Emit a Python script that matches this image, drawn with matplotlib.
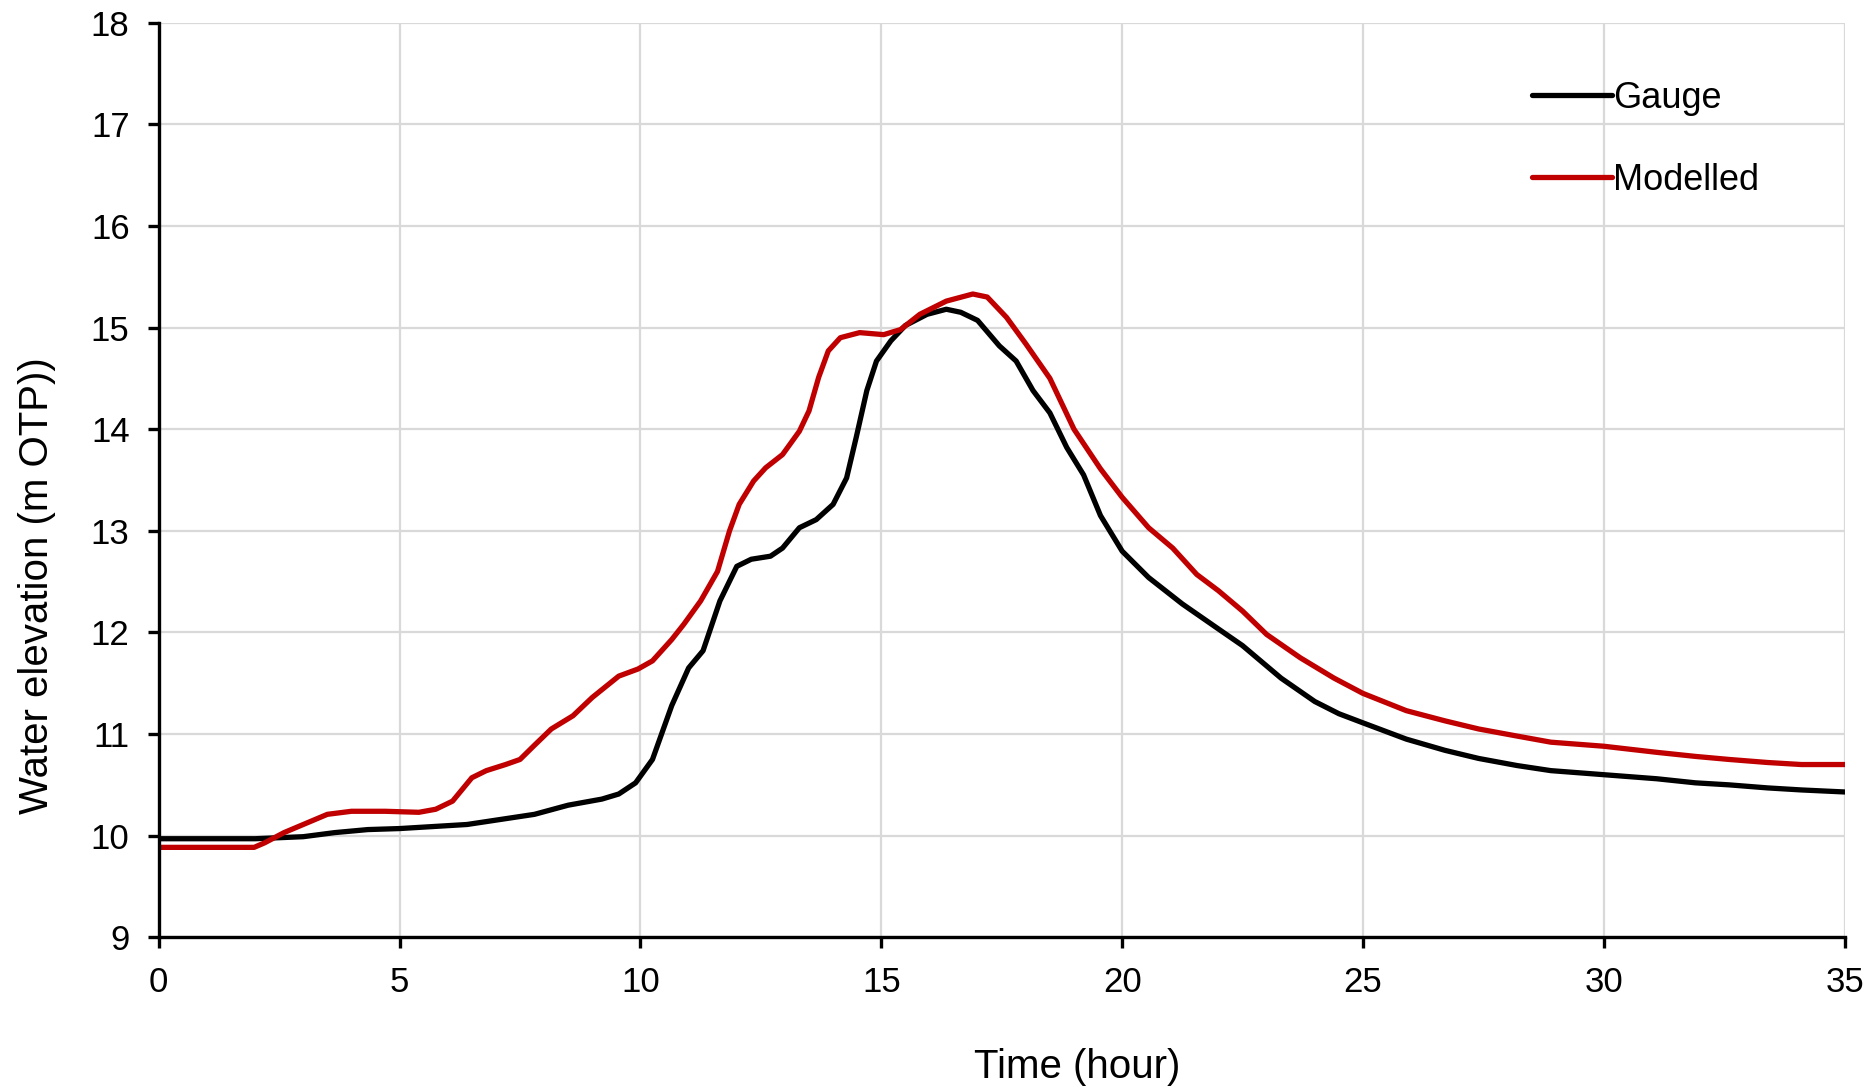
import matplotlib
matplotlib.use("Agg")
import matplotlib.pyplot as plt

# time (hour) and water elevation
gauge_t = [0, 1, 2, 2.5, 3, 3.65, 4.34, 5, 5.7, 6.4, 7.1, 7.8, 8.5, 9.2, 9.55, 9.9,
           10.25, 10.65, 11.0, 11.3, 11.65, 12.0, 12.3, 12.7, 12.95, 13.3, 13.65,
           14.0, 14.28, 14.48, 14.7, 14.9, 15.2, 15.5, 15.95, 16.35, 16.65, 17.0,
           17.45, 17.8, 18.15, 18.5, 18.85, 19.2, 19.55, 20.0, 20.55, 21.25, 21.95,
           22.5, 23.3, 24.0, 24.5, 25.0, 25.9, 26.7, 27.4, 28.2, 28.9, 30.0, 31.1,
           31.9, 32.6, 33.4, 34.1, 35.0]
gauge_y = [9.97, 9.97, 9.97, 9.98, 9.99, 10.03, 10.06, 10.07, 10.09, 10.11, 10.16,
           10.21, 10.30, 10.36, 10.41, 10.52, 10.75, 11.28, 11.65, 11.82, 12.31,
           12.65, 12.72, 12.75, 12.83, 13.03, 13.11, 13.26, 13.52, 13.92, 14.38,
           14.67, 14.87, 15.02, 15.13, 15.18, 15.15, 15.07, 14.82, 14.67, 14.38,
           14.16, 13.82, 13.55, 13.15, 12.80, 12.54, 12.28, 12.05, 11.87, 11.55,
           11.32, 11.20, 11.11, 10.95, 10.84, 10.76, 10.69, 10.64, 10.60, 10.56,
           10.52, 10.50, 10.47, 10.45, 10.43]

model_t = [0, 1.98, 2.2, 2.6, 3.1, 3.5, 4.0, 4.7, 5.4, 5.75, 6.1, 6.5, 6.8, 7.2, 7.5,
           7.8, 8.15, 8.6, 9.0, 9.55, 9.95, 10.25, 10.65, 10.9, 11.25, 11.6, 11.85,
           12.05, 12.35, 12.6, 12.95, 13.3, 13.5, 13.7, 13.9, 14.15, 14.55, 15.05,
           15.4, 15.8, 16.35, 16.9, 17.2, 17.6, 18.0, 18.5, 19.0, 19.55, 20.0, 20.55,
           21.05, 21.55, 22.0, 22.5, 23.0, 23.7, 24.4, 25.0, 25.9, 26.7, 27.4, 28.2,
           28.9, 30.0, 31.1, 31.9, 32.6, 33.4, 34.1, 35.0]
model_y = [9.885, 9.885, 9.93, 10.03, 10.13, 10.21, 10.24, 10.24, 10.23, 10.26, 10.34,
           10.57, 10.64, 10.70, 10.75, 10.89, 11.05, 11.18, 11.36, 11.57, 11.64,
           11.72, 11.93, 12.08, 12.31, 12.60, 13.0, 13.26, 13.49, 13.62, 13.75,
           13.98, 14.18, 14.51, 14.77, 14.90, 14.95, 14.93, 14.98, 15.13, 15.26,
           15.33, 15.30, 15.10, 14.84, 14.50, 14.00, 13.61, 13.33, 13.03, 12.83,
           12.57, 12.41, 12.21, 11.98, 11.75, 11.55, 11.40, 11.23, 11.13, 11.05,
           10.98, 10.92, 10.88, 10.82, 10.78, 10.75, 10.72, 10.70, 10.70]

x_ticks = [0, 5, 10, 15, 20, 25, 30, 35]
y_ticks = [9, 10, 11, 12, 13, 14, 15, 16, 17, 18]


def main():
    plt.rcParams['font.family'] = ['Liberation Sans', 'DejaVu Sans']
    fig = plt.figure(figsize=(18.72, 10.89), dpi=100)
    ax = fig.add_axes([0.0848, 0.1393, 0.9006, 0.8399])

    ax.plot(gauge_t, gauge_y, color='black', lw=3.8, label='Gauge',
            solid_joinstyle='round', solid_capstyle='round')
    ax.plot(model_t, model_y, color='#C00000', lw=3.8, label='Modelled',
            solid_joinstyle='round', solid_capstyle='round')

    ax.set_xlim(0, 35)
    ax.set_ylim(9, 18)
    ax.set_xticks(x_ticks)
    ax.set_yticks(y_ticks)
    ax.grid(True, color='#d9d9d9', lw=1.6)
    ax.set_axisbelow(True)

    for side in ('top', 'right'):
        ax.spines[side].set_visible(False)
    for side in ('left', 'bottom'):
        ax.spines[side].set_linewidth(2.4)
    ax.tick_params(axis='both', direction='out', length=8, width=2.4, labelsize=25, pad=13)

    ax.set_xlabel('Time (hour)', fontsize=29)
    ax.set_ylabel('Water elevation (m OTP))', fontsize=29)
    ax.xaxis.set_label_coords(0.5446, -0.1205)
    ax.yaxis.set_label_coords(-0.061, 0.384)

    ax.legend(loc='upper left', bbox_to_anchor=(0.8185, 0.926), bbox_transform=fig.transFigure,
              frameon=False, fontsize=26, handlelength=2.2, handletextpad=0.05,
              labelspacing=1.3, borderpad=0, borderaxespad=0)

    fig.savefig('out.png', dpi=100)


if __name__ == '__main__':
    main()
